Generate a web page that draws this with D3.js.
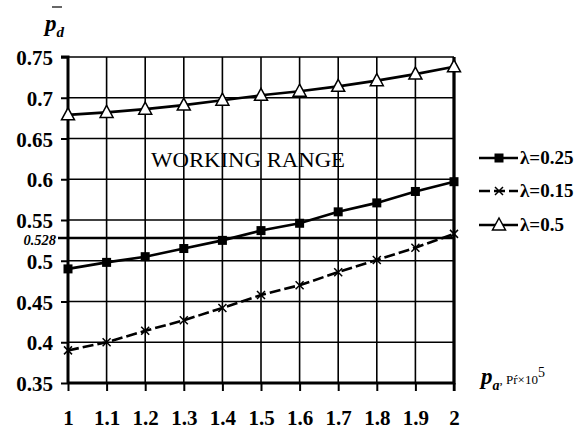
<!DOCTYPE html>
<html>
<head>
<meta charset="utf-8">
<script src="https://cdn.jsdelivr.net/npm/d3@7"></script>
<style>
  body { margin: 0; background: #fff; }
  svg { display: block; font-family: "Liberation Serif", "Times New Roman", serif; }
  svg text { font-family: "Liberation Serif", "Times New Roman", serif; }
</style>
</head>
<body>
<svg class="chart" width="576" height="435"></svg>
<script>
const pa = [1, 1.1, 1.2, 1.3, 1.4, 1.5, 1.6, 1.7, 1.8, 1.9, 2];
const lambda025 = [0.49, 0.498, 0.505, 0.515, 0.525, 0.537, 0.546, 0.56, 0.571, 0.585, 0.597];
const lambda015 = [0.39, 0.4, 0.414, 0.427, 0.442, 0.458, 0.47, 0.486, 0.501, 0.516, 0.533];
const lambda05 = [0.679, 0.682, 0.686, 0.691, 0.697, 0.703, 0.708, 0.714, 0.721, 0.729, 0.738];
const yTicks = [0.35, 0.4, 0.45, 0.5, 0.55, 0.6, 0.65, 0.7, 0.75];
const xTicks = [1, 1.1, 1.2, 1.3, 1.4, 1.5, 1.6, 1.7, 1.8, 1.9, 2];
const critical = 0.528;

const series = [
  { name: "λ=0.25", values: lambda025, marker: "square", dash: null },
  { name: "λ=0.15", values: lambda015, marker: "cross", dash: "11,4" },
  { name: "λ=0.5", values: lambda05, marker: "triangle", dash: null }
];

const svg = d3.select(".chart");
const x = d3.scaleLinear().domain([1, 2]).range([68, 454]);
const y = d3.scaleLinear().domain([0.35, 0.75]).range([383, 57]);

// grid
const grid = svg.append("g");
grid.selectAll(".vg")
  .data(xTicks.slice(1, -1))
  .enter()
  .append("line")
  .attr("x1", (d) => x(d)).attr("x2", (d) => x(d))
  .attr("y1", y(0.75)).attr("y2", y(0.35))
  .attr("stroke", "#000").attr("stroke-width", 1.6);
grid.selectAll(".hg")
  .data(yTicks.slice(1))
  .enter()
  .append("line")
  .attr("x1", x(1)).attr("x2", x(2))
  .attr("y1", (d) => y(d)).attr("y2", (d) => y(d))
  .attr("stroke", "#000").attr("stroke-width", 1.6);

// critical line
svg.append("line")
  .attr("x1", x(1) - 10).attr("x2", x(2))
  .attr("y1", y(critical)).attr("y2", y(critical))
  .attr("stroke", "#000").attr("stroke-width", 2.4);

// axes
const yAxis = d3.axisLeft(y).tickValues(yTicks).tickSize(7).tickPadding(8).tickFormat((d) => d3.format("")(d));
const xAxis = d3.axisBottom(x).tickValues(xTicks).tickSize(8).tickPadding(23).tickFormat((d) => d3.format("")(d));

const gy = svg.append("g").attr("transform", `translate(${x(1)},0)`).call(yAxis);
const gx = svg.append("g").attr("transform", `translate(0,${y(0.35)})`).call(xAxis);
[gy, gx].forEach((g) => {
  g.attr("font-family", null);
  g.select(".domain").attr("stroke", "#000").attr("stroke-width", 3);
  g.selectAll(".tick line").attr("stroke", "#000").attr("stroke-width", 2);
  g.selectAll(".tick text")
    .attr("fill", "#000")
    .style("font-weight", "bold")
    .style("font-size", "21px");
});
gy.select(".domain").attr("d", `M-7,${y(0.75)}H0V${y(0.35)}`);
gx.select(".domain").attr("d", `M${x(1)},0H${x(2)}V${y(0.75) - y(0.35)}`);
gx.selectAll(".tick text").attr("dy", "0.5em");
gy.selectAll(".tick text").attr("dy", "0.36em");

// right border
svg.append("line")
  .attr("x1", x(2)).attr("x2", x(2))
  .attr("y1", y(0.75)).attr("y2", y(0.35) + 8)
  .attr("stroke", "#000").attr("stroke-width", 2.5);

svg.append("text")
  .attr("x", x(1) - 12).attr("y", y(critical) + 7)
  .attr("text-anchor", "end")
  .style("font-weight", "bold").style("font-style", "italic").style("font-size", "14.5px")
  .text("0.528");

svg.append("text")
  .attr("x", 151).attr("y", 167)
  .attr("textLength", 194)
  .attr("lengthAdjust", "spacingAndGlyphs")
  .style("font-size", "22px")
  .text("WORKING RANGE");

// series
const line = d3.line().x((d, i) => x(pa[i])).y((d) => y(d));

function drawMarker(g, type) {
  if (type === "square") {
    g.append("rect").attr("x", -4.5).attr("y", -4.5).attr("width", 9).attr("height", 9).attr("fill", "#000");
  } else if (type === "cross") {
    g.append("path").attr("d", "M-4,-4L4,4M-4,4L4,-4")
      .attr("stroke", "#000").attr("stroke-width", 1.5).attr("fill", "none");
  } else {
    g.append("path").attr("d", "M0,-7L6.5,5L-6.5,5Z")
      .attr("fill", "#fff").attr("stroke", "#000").attr("stroke-width", 1.5);
  }
}

series.forEach((s) => {
  svg.append("path")
    .datum(s.values)
    .attr("d", line)
    .attr("fill", "none")
    .attr("stroke", "#000")
    .attr("stroke-width", 2.6)
    .attr("stroke-dasharray", s.dash);
  svg.selectAll(null)
    .data(s.values)
    .enter()
    .append("g")
    .attr("transform", (d, i) => `translate(${x(pa[i])},${y(d)})`)
    .each(function () { drawMarker(d3.select(this), s.marker); });
});

// legend
const legendY = [158, 191, 225];
series.forEach((s, i) => {
  const lg = svg.append("g").attr("transform", `translate(479,${legendY[i]})`);
  lg.append("line").attr("x1", 0).attr("x2", 39).attr("y1", 0).attr("y2", 0)
    .attr("stroke", "#000").attr("stroke-width", 2.6).attr("stroke-dasharray", s.dash);
  drawMarker(lg.append("g").attr("transform", "translate(20,0)"), s.marker);
  lg.append("text").attr("x", 41).attr("y", 6)
    .style("font-weight", "bold").style("font-size", "19px")
    .text(s.name);
});

// axis titles
const yt = svg.append("text").attr("x", 45).attr("y", 31)
  .style("font-weight", "bold").style("font-style", "italic").style("font-size", "23px");
yt.append("tspan").text("p");
yt.append("tspan").attr("dy", 6).style("font-size", "15px").text("d");
svg.append("line").attr("x1", 52).attr("x2", 62).attr("y1", 7).attr("y2", 7)
  .attr("stroke", "#000").attr("stroke-width", 1.2);

const xt = svg.append("text").attr("x", 481).attr("y", 384);
xt.append("tspan").style("font-weight", "bold").style("font-style", "italic").style("font-size", "23px").text("p");
xt.append("tspan").attr("dy", 6).style("font-weight", "bold").style("font-style", "italic").style("font-size", "14px").text("a");
xt.append("tspan").attr("dy", -6).style("font-size", "13px").text(", Pŕ×10");
xt.append("tspan").attr("dy", -7).style("font-size", "14px").text("5");
</script>
</body>
</html>
